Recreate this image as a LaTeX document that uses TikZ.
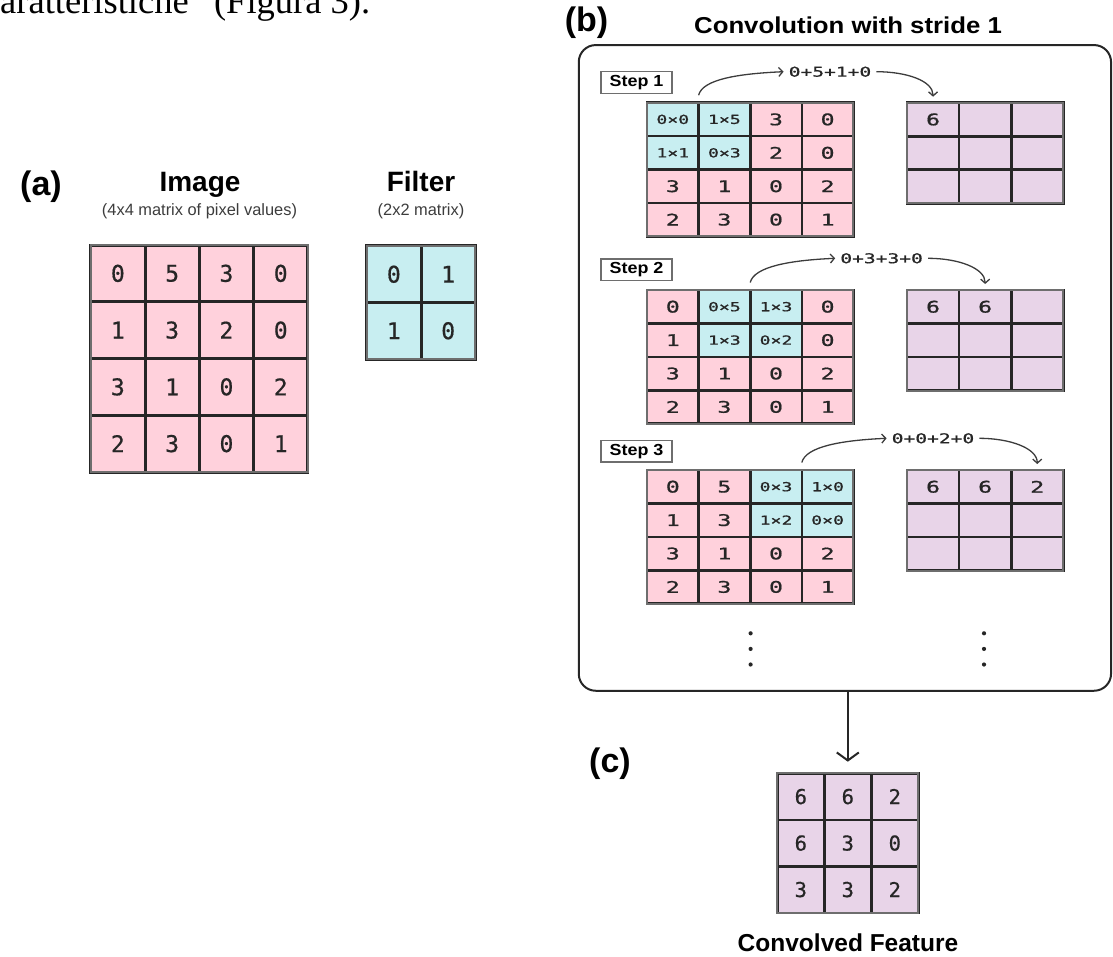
\documentclass[tikz,border=0pt]{standalone}
\usepackage{fontspec}
\setmainfont{Liberation Serif}
\newfontfamily\headfont{Liberation Sans}
\newfontfamily\widehead[FakeStretch=1.12]{Liberation Sans}
\newfontfamily\numfont[FakeBold=0.6]{DejaVu Sans Mono}
\newfontfamily\widenum[FakeStretch=1.45,FakeBold=0.9]{DejaVu Sans Mono}
\usetikzlibrary{arrows.meta}

\definecolor{pixpink}{HTML}{FFD1DC}
\definecolor{kerncyan}{HTML}{C8EEF1}
\definecolor{featlilac}{HTML}{E8D4E8}
\definecolor{gridink}{HTML}{262626}
\definecolor{rimgray}{HTML}{6E6E6E}

\tikzset{
  cell/.style={draw=gridink, inner sep=0pt, outer sep=0pt, text=gridink},
  bigcell/.style={cell, line width=3pt, minimum width=54.3pt, minimum height=56.75pt,
    font=\numfont\fontsize{23}{23}\selectfont},
  pixcell/.style={cell, fill=pixpink, line width=2.6pt, minimum width=51.6pt, minimum height=33.4pt,
    font=\widenum\fontsize{16}{16}\selectfont},
  kerncell/.style={pixcell, fill=kerncyan, font=\widenum\fontsize{12.5}{12.5}\selectfont},
  outcell/.style={cell, fill=featlilac, line width=2.6pt, minimum width=52.1pt, minimum height=33.5pt,
    font=\widenum\fontsize{16}{16}\selectfont},
  convcell/.style={cell, fill=featlilac, line width=2.6pt, minimum width=47pt, minimum height=46.5pt,
    font=\numfont\fontsize{20.5}{20.5}\selectfont},
  rim/.style={draw=rimgray, line width=2pt},
  stepbox/.style={draw=rimgray, line width=1.5pt, minimum width=71pt, minimum height=21.6pt,
    inner sep=0pt, font=\widehead\bfseries\fontsize{16}{16}\selectfont},
  sumtxt/.style={inner sep=5pt, text=gridink, font=\widenum\fontsize{13.5}{13.5}\selectfont},
  partlbl/.style={anchor=base, font=\headfont\bfseries\fontsize{34}{34}\selectfont},
  headlbl/.style={anchor=base, font=\headfont\bfseries\fontsize{28}{28}\selectfont},
  sublbl/.style={anchor=base, text=gridink!90, font=\headfont\fontsize{16.4}{16.4}\selectfont},
  flow/.style={draw=gridink!90, line width=1.3pt, -{Straight Barb[length=4pt,width=9pt]}},
  bigflow/.style={draw=gridink, line width=2pt, -{Straight Barb[length=8pt,width=22pt]}}
}

\begin{document}
\begin{tikzpicture}[x=1pt, y=-1pt]
\clip (0,0) rectangle (1113,956);

% running text of the page above
\node[anchor=base west, inner sep=0pt, font=\fontsize{36.5}{36.5}\selectfont] (bodytxt) at (-16.2,13.3)
  {caratteristiche” (Figura 3).};

% (a) input image and filter
\node[partlbl] (lbla) at (41,195) {(a)};
\node[headlbl] (imgttl) at (200,191.7) {Image};
\node[sublbl] (imgsub) at (199.5,215) {(4x4 matrix of pixel values)};
\node[headlbl] (filtttl) at (421,191.7) {Filter};
\node[sublbl] (filtsub) at (421,215) {(2x2 matrix)};

\foreach \vals [count=\ri from 0] in {{0,5,3,0},{1,3,2,0},{3,1,0,2},{2,3,0,1}}
  \foreach \v [count=\ci from 0] in \vals
    \node[bigcell, fill=pixpink] (img-\ri-\ci) at ({90.7+54.3*(\ci+0.5)},{245+56.75*(\ri+0.5)}) {\v};
\draw[rim] (img-0-0.north west) rectangle (img-3-3.south east);

\foreach \vals [count=\ri from 0] in {{0,1},{1,0}}
  \foreach \v [count=\ci from 0] in \vals
    \node[bigcell, fill=kerncyan] (filt-\ri-\ci) at ({366.7+54.3*(\ci+0.5)},{246+56.5*(\ri+0.5)}) {\v};
\draw[rim] (filt-0-0.north west) rectangle (filt-1-1.south east);

% (b) sliding the filter, stride 1
\node[partlbl] (lblb) at (586.5,31) {(b)};
\node[anchor=base, font=\widehead\bfseries\fontsize{23}{23}\selectfont] (convttl) at (848,33) {Convolution with stride 1};
\node[draw=gridink, line width=2pt, rounded corners=17pt, minimum width=532.3pt, minimum height=645.7pt,
  inner sep=0pt] (panel) at (844.9,367.9) {};

\foreach \s/\yy in {1/82.5, 2/269.7, 3/451.2}
  \node[stepbox] (step\s) at (636.5,\yy) {Step \s};

\foreach \s/\top/\k/\vals in {
    1/102.7/0/{0×0,1×5,3,0,1×1,0×3,2,0,3,1,0,2,2,3,0,1},
    2/290/1/{0,0×5,1×3,0,1,1×3,0×2,0,3,1,0,2,2,3,0,1},
    3/470/2/{0,5,0×3,1×0,1,3,1×2,0×0,3,1,0,2,2,3,0,1}} {
  \foreach \v [count=\n from 0] in \vals {
    \pgfmathtruncatemacro\ri{floor(\n/4)}
    \pgfmathtruncatemacro\ci{mod(\n,4)}
    \pgfmathtruncatemacro\inwin{(\ri<2)&&(\ci>=\k)&&(\ci<=\k+1)}
    \ifnum\inwin=1 \def\cellsty{kerncell}\else\def\cellsty{pixcell}\fi
    \node[\cellsty] (s\s-\ri-\ci) at ({647+51.6*(\ci+0.5)},{\top+33.4*(\ri+0.5)}) {\v};
  }
  \draw[rim] (s\s-0-0.north west) rectangle (s\s-3-3.south east);
}

\foreach \s/\top/\vals in {
    1/102.7/{6,{},{},{},{},{},{},{},{}},
    2/290/{6,6,{},{},{},{},{},{},{}},
    3/470/{6,6,2,{},{},{},{},{},{}}} {
  \foreach \v [count=\n from 0] in \vals {
    \pgfmathtruncatemacro\ri{floor(\n/3)}
    \pgfmathtruncatemacro\ci{mod(\n,3)}
    \node[outcell] (o\s-\ri-\ci) at ({907+52.1*(\ci+0.5)},{\top+33.5*(\ri+0.5)}) {\v};
  }
  \draw[rim] (o\s-0-0.north west) rectangle (o\s-2-2.south east);
}

\node[sumtxt] (sum1) at (830,71.7) {0+5+1+0};
\node[sumtxt] (sum2) at (881.6,258.3) {0+3+3+0};
\node[sumtxt] (sum3) at (933,438.3) {0+0+2+0};

\foreach \s/\k in {1/0, 2/1, 3/2} {
  \draw[flow] ([yshift=7.5pt]s\s-0-\k.north east) .. controls +(4,-16) and +(-45,2) .. (sum\s.west);
  \draw[flow] (sum\s.east) .. controls +(30,0) and +(0,-16) .. ([yshift=6pt]o\s-0-\k.north);
}

% more steps follow
\foreach \xx in {750.6, 984}
  \foreach \yy in {633.3, 648.9, 664.5}
    \fill[gridink] (\xx,\yy) circle (2.1pt);

% (c) resulting feature map
\node[partlbl] (lblc) at (610,772) {(c)};
\foreach \vals [count=\ri from 0] in {{6,6,2},{6,3,0},{3,3,2}}
  \foreach \v [count=\ci from 0] in \vals
    \node[convcell] (conv-\ri-\ci) at ({777.3+47*(\ci+0.5)},{773.3+46.5*(\ri+0.5)}) {\v};
\draw[rim] (conv-0-0.north west) rectangle (conv-2-2.south east);
\draw[bigflow] (panel.south -| conv-0-1.north) -- ([yshift=11.6pt]conv-0-1.north);
\node[anchor=base, font=\headfont\bfseries\fontsize{24.5}{24.5}\selectfont] (convlbl) at (848,951) {Convolved Feature};
\end{tikzpicture}
\end{document}
